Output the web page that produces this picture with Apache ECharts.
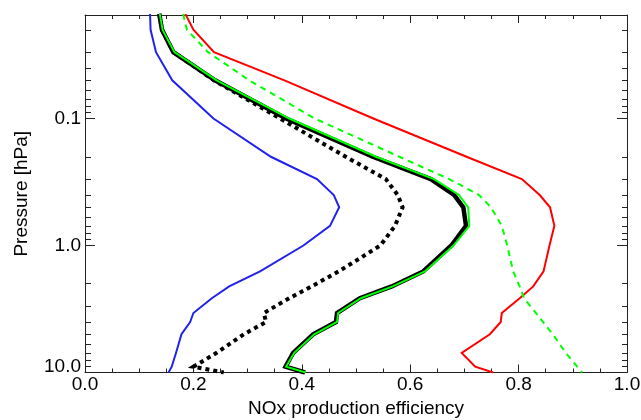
<!DOCTYPE html>
<html>
<head>
<meta charset="utf-8">
<script src="https://cdn.jsdelivr.net/npm/echarts@6/dist/echarts.min.js"></script>
<style>
html,body{margin:0;padding:0;background:#fff;}
#chart{width:641px;height:420px;}
</style>
</head>
<body>
<div id="chart"></div>
<script>
// Pressure levels [hPa]
var pressure = [0.015, 0.02, 0.03, 0.05, 0.1, 0.2, 0.3, 0.4, 0.5, 0.7, 1.0, 1.6, 2.1, 2.6, 3.4, 4.0, 5.0, 7.0, 9.0, 10.0];
// NOx production efficiency profiles
var blueLine    = [0.120, 0.121, 0.131, 0.161, 0.237, 0.343, 0.428, 0.459, 0.469, 0.452, 0.403, 0.323, 0.266, 0.234, 0.200, 0.194, 0.178, 0.168, 0.160, 0.154];
var redLine     = [0.185, 0.200, 0.238, 0.368, 0.532, 0.704, 0.806, 0.839, 0.858, 0.866, 0.857, 0.846, 0.827, 0.802, 0.769, 0.767, 0.747, 0.695, 0.720, 0.753];
var greenDashed = [0.181, 0.188, 0.227, 0.303, 0.424, 0.580, 0.672, 0.727, 0.749, 0.769, 0.779, 0.790, 0.802, 0.810, 0.832, 0.845, 0.863, 0.887, 0.908, 0.917];
var blackDotted = [0.137, 0.142, 0.163, 0.238, 0.360, 0.481, 0.555, 0.577, 0.586, 0.572, 0.545, 0.468, 0.418, 0.377, 0.330, 0.334, 0.293, 0.243, 0.200, 0.256];
var blackSolid  = [0.137, 0.142, 0.163, 0.240, 0.371, 0.531, 0.638, 0.681, 0.698, 0.703, 0.676, 0.624, 0.566, 0.507, 0.465, 0.463, 0.421, 0.384, 0.370, 0.406];
var greenSolid  = [0.138, 0.143, 0.165, 0.243, 0.377, 0.537, 0.644, 0.690, 0.707, 0.709, 0.680, 0.627, 0.568, 0.509, 0.467, 0.465, 0.423, 0.386, 0.371, 0.407];
// Axis ticks
var yMajorTicks = [0.1, 1, 10];
var yMinorTicks = [0.02,0.03,0.04,0.05,0.06,0.07,0.08,0.09, 0.2,0.3,0.4,0.5,0.6,0.7,0.8,0.9, 2,3,4,5,6,7,8,9];
var xMin = 0, xMax = 1, xStep = 0.2;
var yMin = 0.0153, yMax = 10;

function pairs(vals){ return vals.map(function(v,i){ return [v, pressure[i]]; }); }

var FONT = 'Liberation Sans, Arial, Helvetica, sans-serif';
var AXC = '#222';

function yAx(pos, ticks, len, showLine, labels){
  var a = {
    type: 'log', logBase: 10, position: pos, min: yMin, max: yMax, inverse: true,
    splitLine: {show: false},
    axisLine: {show: showLine, lineStyle: {color: AXC, width: 1}},
    axisTick: {show: true, inside: true, length: len, customValues: ticks, lineStyle: {color: AXC, width: 1}},
    axisLabel: {show: false}
  };
  if (labels) {
    a.axisLabel = {
      show: true, customValues: yMajorTicks, margin: 4,
      color: '#000', fontFamily: FONT, fontSize: 19,
      formatter: function(v){ var s = (+v).toFixed(1); return (+v) >= 10 ? '{up|' + s + '}' : s; },
      rich: {up: {padding: [0,0,12,0], color: '#000', fontFamily: FONT, fontSize: 19}}
    };
    a.name = 'Pressure [hPa]';
    a.nameLocation = 'middle';
    a.nameRotate = 90;
    a.nameGap = 54;
    a.nameTextStyle = {color: '#000', fontFamily: FONT, fontSize: 19};
  }
  return a;
}

function xAx(pos, labels){
  var a = {
    type: 'value', position: pos, min: xMin, max: xMax, interval: xStep,
    splitLine: {show: false},
    axisLine: {show: true, onZero: false, lineStyle: {color: AXC, width: 1}},
    axisTick: {show: true, inside: true, length: 8, lineStyle: {color: AXC, width: 1}},
    minorTick: {show: true, splitNumber: 4, length: 4, lineStyle: {color: AXC, width: 1}},
    axisLabel: {show: false}
  };
  if (labels) {
    a.axisLabel = {show: true, margin: 3, color: '#000', fontFamily: FONT, fontSize: 19,
      formatter: function(v){ return (+v).toFixed(1); }};
    a.name = 'NOx production efficiency';
    a.nameLocation = 'middle';
    a.nameGap = 26;
    a.nameTextStyle = {color: '#000', fontFamily: FONT, fontSize: 19};
  }
  return a;
}

function line(data, color, width, dash){
  return {
    type: 'line', xAxisIndex: 0, yAxisIndex: 0, data: pairs(data),
    symbol: 'none', clip: true, animation: false,
    lineStyle: {color: color, width: width, type: dash || 'solid', cap: 'butt', join: 'miter'}
  };
}

var chart = echarts.init(document.getElementById('chart'), null, {renderer: 'canvas'});
chart.setOption({
  animation: false,
  backgroundColor: '#fff',
  grid: {left: 85, right: 14, top: 15, bottom: 47.5, containLabel: false, outerBoundsMode: 'none'},
  xAxis: [xAx('bottom', true), xAx('top', false)],
  yAxis: [
    yAx('left', yMajorTicks, 10, true, true),
    yAx('left', yMinorTicks, 6, false, false),
    yAx('right', yMajorTicks, 10, true, false),
    yAx('right', yMinorTicks, 5, false, false)
  ],
  series: [
    line(blueLine, '#2222ee', 2),
    line(redLine, '#ff0000', 2),
    line(greenDashed, '#00ff00', 2, [6,5]),
    line(blackDotted, '#000000', 4, [4,4]),
    line(blackSolid, '#000000', 4.5),
    line(greenSolid, '#00ff00', 2)
  ]
});
</script>
</body>
</html>
